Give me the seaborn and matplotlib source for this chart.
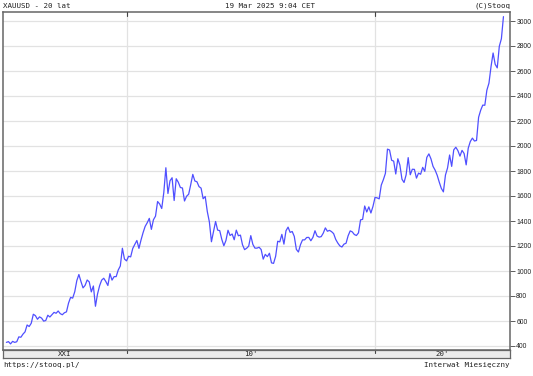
import numpy as np
import pandas as pd
import matplotlib
matplotlib.use("Agg")
import matplotlib.pyplot as plt
import seaborn as sns

# ---- data: XAUUSD monthly closes, Mar 2005 .. Mar 2025 ----
start_month = "2005-03"
closes = [
    429, 435, 417, 437, 429, 434, 473, 470, 495, 513,                       # 2005 Mar-Dec
    568, 556, 582, 654, 643, 614, 633, 623, 599, 604, 646, 632,             # 2006
    650, 669, 662, 680, 659, 650, 666, 673, 743, 789, 783, 834,             # 2007
    923, 972, 916, 865, 885, 928, 913, 833, 880, 718, 816, 882,             # 2008
    927, 942, 916, 884, 979, 927, 955, 955, 1008, 1040, 1182, 1096,         # 2009
    1081, 1118, 1113, 1180, 1213, 1244, 1181, 1248, 1307, 1357, 1386, 1421, # 2010
    1333, 1410, 1439, 1556, 1536, 1500, 1628, 1826, 1620, 1722, 1746, 1564, # 2011
    1738, 1710, 1668, 1664, 1560, 1598, 1614, 1691, 1773, 1720, 1714, 1675, # 2012
    1663, 1578, 1596, 1476, 1393, 1234, 1313, 1396, 1327, 1323, 1253, 1202, # 2013
    1244, 1326, 1284, 1296, 1250, 1327, 1282, 1287, 1210, 1171, 1182, 1199, # 2014
    1283, 1213, 1183, 1183, 1190, 1172, 1095, 1133, 1115, 1142, 1065, 1061, # 2015
    1118, 1238, 1233, 1293, 1215, 1322, 1351, 1309, 1316, 1277, 1173, 1152, # 2016
    1211, 1249, 1249, 1268, 1269, 1242, 1269, 1322, 1280, 1271, 1275, 1303, # 2017
    1345, 1318, 1325, 1315, 1299, 1253, 1224, 1201, 1192, 1215, 1222, 1282, # 2018
    1321, 1313, 1292, 1284, 1305, 1409, 1413, 1520, 1472, 1513, 1464, 1517, # 2019
    1589, 1585, 1577, 1687, 1730, 1781, 1975, 1968, 1886, 1879, 1776, 1898, # 2020
    1847, 1734, 1708, 1769, 1907, 1770, 1814, 1813, 1743, 1783, 1774, 1829, # 2021
    1797, 1909, 1937, 1897, 1837, 1807, 1766, 1711, 1661, 1633, 1768, 1824, # 2022
    1928, 1837, 1969, 1990, 1963, 1919, 1965, 1940, 1849, 1983, 2036, 2063, # 2023
    2040, 2044, 2230, 2286, 2327, 2326, 2447, 2503, 2635, 2744, 2654, 2625, # 2024
    2798, 2858, 3035,                                                       # 2025 Jan-Mar
]
y_ticks = [400, 600, 800, 1000, 1200, 1400, 1600, 1800, 2000, 2200, 2400, 2600, 2800, 3000]
decade_years = [2010, 2020]
decade_labels = ["XXI", "10'", "20'"]

title_left = "XAUUSD - 20 lat"
title_mid = "19 Mar 2025 9:04 CET"
title_right = "(C)Stooq"
foot_left = "https://stooq.pl/"
foot_right = "Interwał Miesięczny"

dates = pd.date_range(start_month, periods=len(closes), freq="MS")
df = pd.DataFrame({"t": dates.year + (dates.month - 1) / 12.0, "close": closes})

sns.set_theme(style="white")
plt.rcParams["font.family"] = ["DejaVu Sans Mono", "DejaVu Sans"]

W, H = 533, 376
fig = plt.figure(figsize=(W / 100, H / 100), dpi=100, facecolor="white")
x0, x1, ytop, ybot = 3, 510, 12, 350
ax = fig.add_axes([x0 / W, 1 - ybot / H, (x1 - x0) / W, (ybot - ytop) / H])
XL = (2005.03, 2025.43)
YL = (368, 3072)

ax.set_facecolor("white")
for v in y_ticks:
    ax.axhline(v, color="#e2e2e2", lw=0.9, zorder=0)
for v in decade_years:
    ax.axvline(v, color="#e2e2e2", lw=0.9, zorder=0)

sns.lineplot(data=df, x="t", y="close", ax=ax, color="#4f4fff", lw=0.9, zorder=3)
ax.set_xlim(*XL)
ax.set_ylim(*YL)
ax.set_xlabel("")
ax.set_ylabel("")
ax.set_xticks([])
ax.yaxis.tick_right()
ax.set_yticks(y_ticks)
ax.set_yticklabels([str(v) for v in y_ticks], fontsize=4.9, color="#222222",
                   family="Liberation Sans")
ax.tick_params(axis="y", which="both", right=True, length=3.5, width=0.6,
               color="#444444", pad=1.0, direction="out")
for s in ax.spines.values():
    s.set_color("#666666")
    s.set_linewidth(1.1)
    s.set_visible(True)
# small marks at top frame at decade positions
for v in decade_years:
    ax.plot([v, v], [YL[1], YL[1] - 30], color="#444444", lw=0.8, zorder=4, clip_on=False)

# decade band below
bax = fig.add_axes([x0 / W, 1 - 358 / H, (x1 - x0) / W, 8 / H])
bax.set_facecolor("#ebebeb")
bax.set_xlim(*XL)
bax.set_ylim(0, 1)
bax.set_xticks([])
bax.set_yticks([])
for s in bax.spines.values():
    s.set_color("#666666")
    s.set_linewidth(0.9)
for v in decade_years:
    bax.plot([v, v], [1, 0.6], color="#444444", lw=0.8)
centers = [(XL[0] + decade_years[0]) / 2, (decade_years[0] + decade_years[1]) / 2,
           (decade_years[1] + XL[1]) / 2]
for c, lab in zip(centers, decade_labels):
    bax.text(c, 0.45, lab, ha="center", va="center", fontsize=5.3, color="#222222")

fs = 5.4
fig.text(3 / W, 1 - 6 / H, title_left, ha="left", va="center", fontsize=fs, color="#222222")
fig.text(270 / W, 1 - 6 / H, title_mid, ha="center", va="center", fontsize=fs, color="#222222")
fig.text(510 / W, 1 - 6 / H, title_right, ha="right", va="center", fontsize=fs, color="#222222")
fig.text(3 / W, 1 - 365 / H, foot_left, ha="left", va="center", fontsize=fs, color="#222222")
fig.text(510 / W, 1 - 365 / H, foot_right, ha="right", va="center", fontsize=fs, color="#222222")

fig.savefig("out.png", dpi=100, facecolor="white")
